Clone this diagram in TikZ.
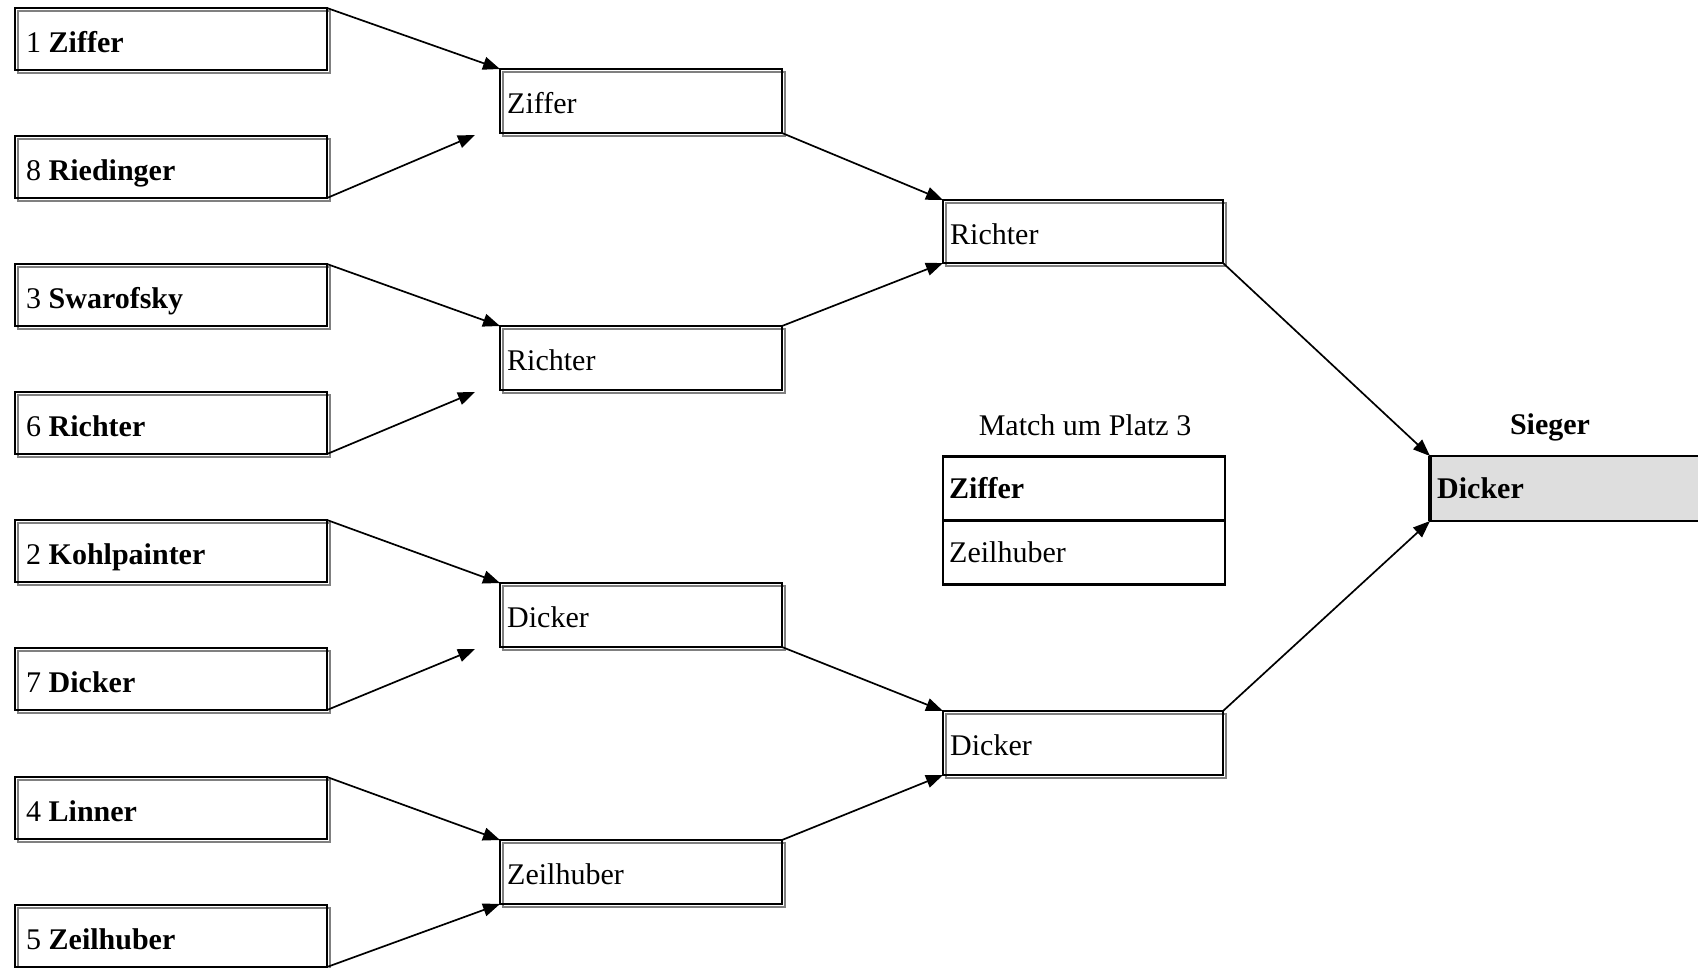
\documentclass[tikz,border=0pt]{standalone}
\usepackage{fontspec}
\setmainfont{Liberation Serif}
\usetikzlibrary{calc,arrows.meta}
\tikzset{
  bx/.style={draw=black, line width=2pt, inner sep=0pt, outer sep=0pt, anchor=north west},
  shd/.style={draw=black!50, line width=2.2pt},
  lbl/.style={anchor=base west, inner sep=0pt, font=\fontsize{30}{36}\selectfont},
  ttl/.style={anchor=base, inner sep=0pt, font=\fontsize{30}{36}\selectfont},
  con/.style={line width=1.7pt, -{Triangle[length=17pt,width=13pt]}},
  plain/.style={draw=black, line width=2.4pt, inner sep=0pt, outer sep=0pt, anchor=north west},
}
\newcommand\tdbox[7]{% name, left, top, width, height, inset, text
  \draw[shd] (#2+3,#3+3) rectangle (#2+#4+3,#3+#5+3);
  \node[bx, minimum width=#4pt, minimum height=#5pt] (#1) at (#2,#3) {};
  \node[lbl] (#1-t) at ($(#1.north west)+(#6,44)$) {#7};
}
\begin{document}
\begin{tikzpicture}[x=1pt,y=-1pt]
\useasboundingbox (0,0) rectangle (1698,967);
% round 1
\tdbox{s1}{15}{8}{312}{62}{11}{1 \textbf{Ziffer}}
\tdbox{s8}{15}{136}{312}{62}{11}{8 \textbf{Riedinger}}
\tdbox{s3}{15}{264}{312}{62}{11}{3 \textbf{Swarofsky}}
\tdbox{s6}{15}{392}{312}{62}{11}{6 \textbf{Richter}}
\tdbox{s2}{15}{520}{312}{62}{11}{2 \textbf{Kohlpainter}}
\tdbox{s7}{15}{648}{312}{62}{11}{7 \textbf{Dicker}}
\tdbox{s4}{15}{777}{312}{62}{11}{4 \textbf{Linner}}
\tdbox{s5}{15}{905}{312}{62}{11}{5 \textbf{Zeilhuber}}
% round 2
\tdbox{q1}{500}{69}{282}{64}{7}{Ziffer}
\tdbox{q2}{500}{326}{282}{64}{7}{Richter}
\tdbox{q3}{500}{583}{282}{64}{7}{Dicker}
\tdbox{q4}{500}{840}{282}{64}{7}{Zeilhuber}
% round 3
\tdbox{h1}{943}{200}{280}{63}{7}{Richter}
\tdbox{h2}{943}{711}{280}{64}{7}{Dicker}
% match um Platz 3
\node[ttl] (p3title) at (1085,435) {Match um Platz 3};
\node[plain, minimum width=282pt, minimum height=64pt] (p3a) at (943,456.5) {};
\node[plain, minimum width=282pt, minimum height=64pt] (p3b) at (943,520.5) {};
\node[lbl] (p3a-t) at ($(p3a.north west)+(6,42)$) {\textbf{Ziffer}};
\node[lbl] (p3b-t) at ($(p3b.north west)+(6,42)$) {Zeilhuber};
% Sieger
\node[ttl] (siegertitle) at (1550,434) {\textbf{Sieger}};
\node[plain, fill=black!13, minimum width=300pt, minimum height=65pt] (sieger) at (1430,456) {};
\draw[line width=3.8pt] (sieger.north west) -- (sieger.south west);
\node[lbl] (sieger-t) at ($(sieger.north west)+(7,42)$) {\textbf{Dicker}};
% connectors round 1 -> round 2
\coordinate (q1in) at ($(q1.south west)+(-25,2)$);
\coordinate (q2in) at ($(q2.south west)+(-25,2)$);
\coordinate (q3in) at ($(q3.south west)+(-25,2)$);
\draw[con] (s1.north east) -- (q1.north west);
\draw[con] (s8.south east) -- (q1in);
\draw[con] (s3.north east) -- (q2.north west);
\draw[con] (s6.south east) -- (q2in);
\draw[con] (s2.north east) -- (q3.north west);
\draw[con] (s7.south east) -- (q3in);
\draw[con] (s4.north east) -- (q4.north west);
\draw[con] (s5.south east) -- (q4.south west);
% round 2 -> round 3
\draw[con] (q1.south east) -- (h1.north west);
\draw[con] (q2.north east) -- (h1.south west);
\draw[con] (q3.south east) -- (h2.north west);
\draw[con] (q4.north east) -- (h2.south west);
% round 3 -> Sieger
\draw[con] (h1.south east) -- (sieger.north west);
\draw[con] (h2.north east) -- (sieger.south west);
\end{tikzpicture}
\end{document}
